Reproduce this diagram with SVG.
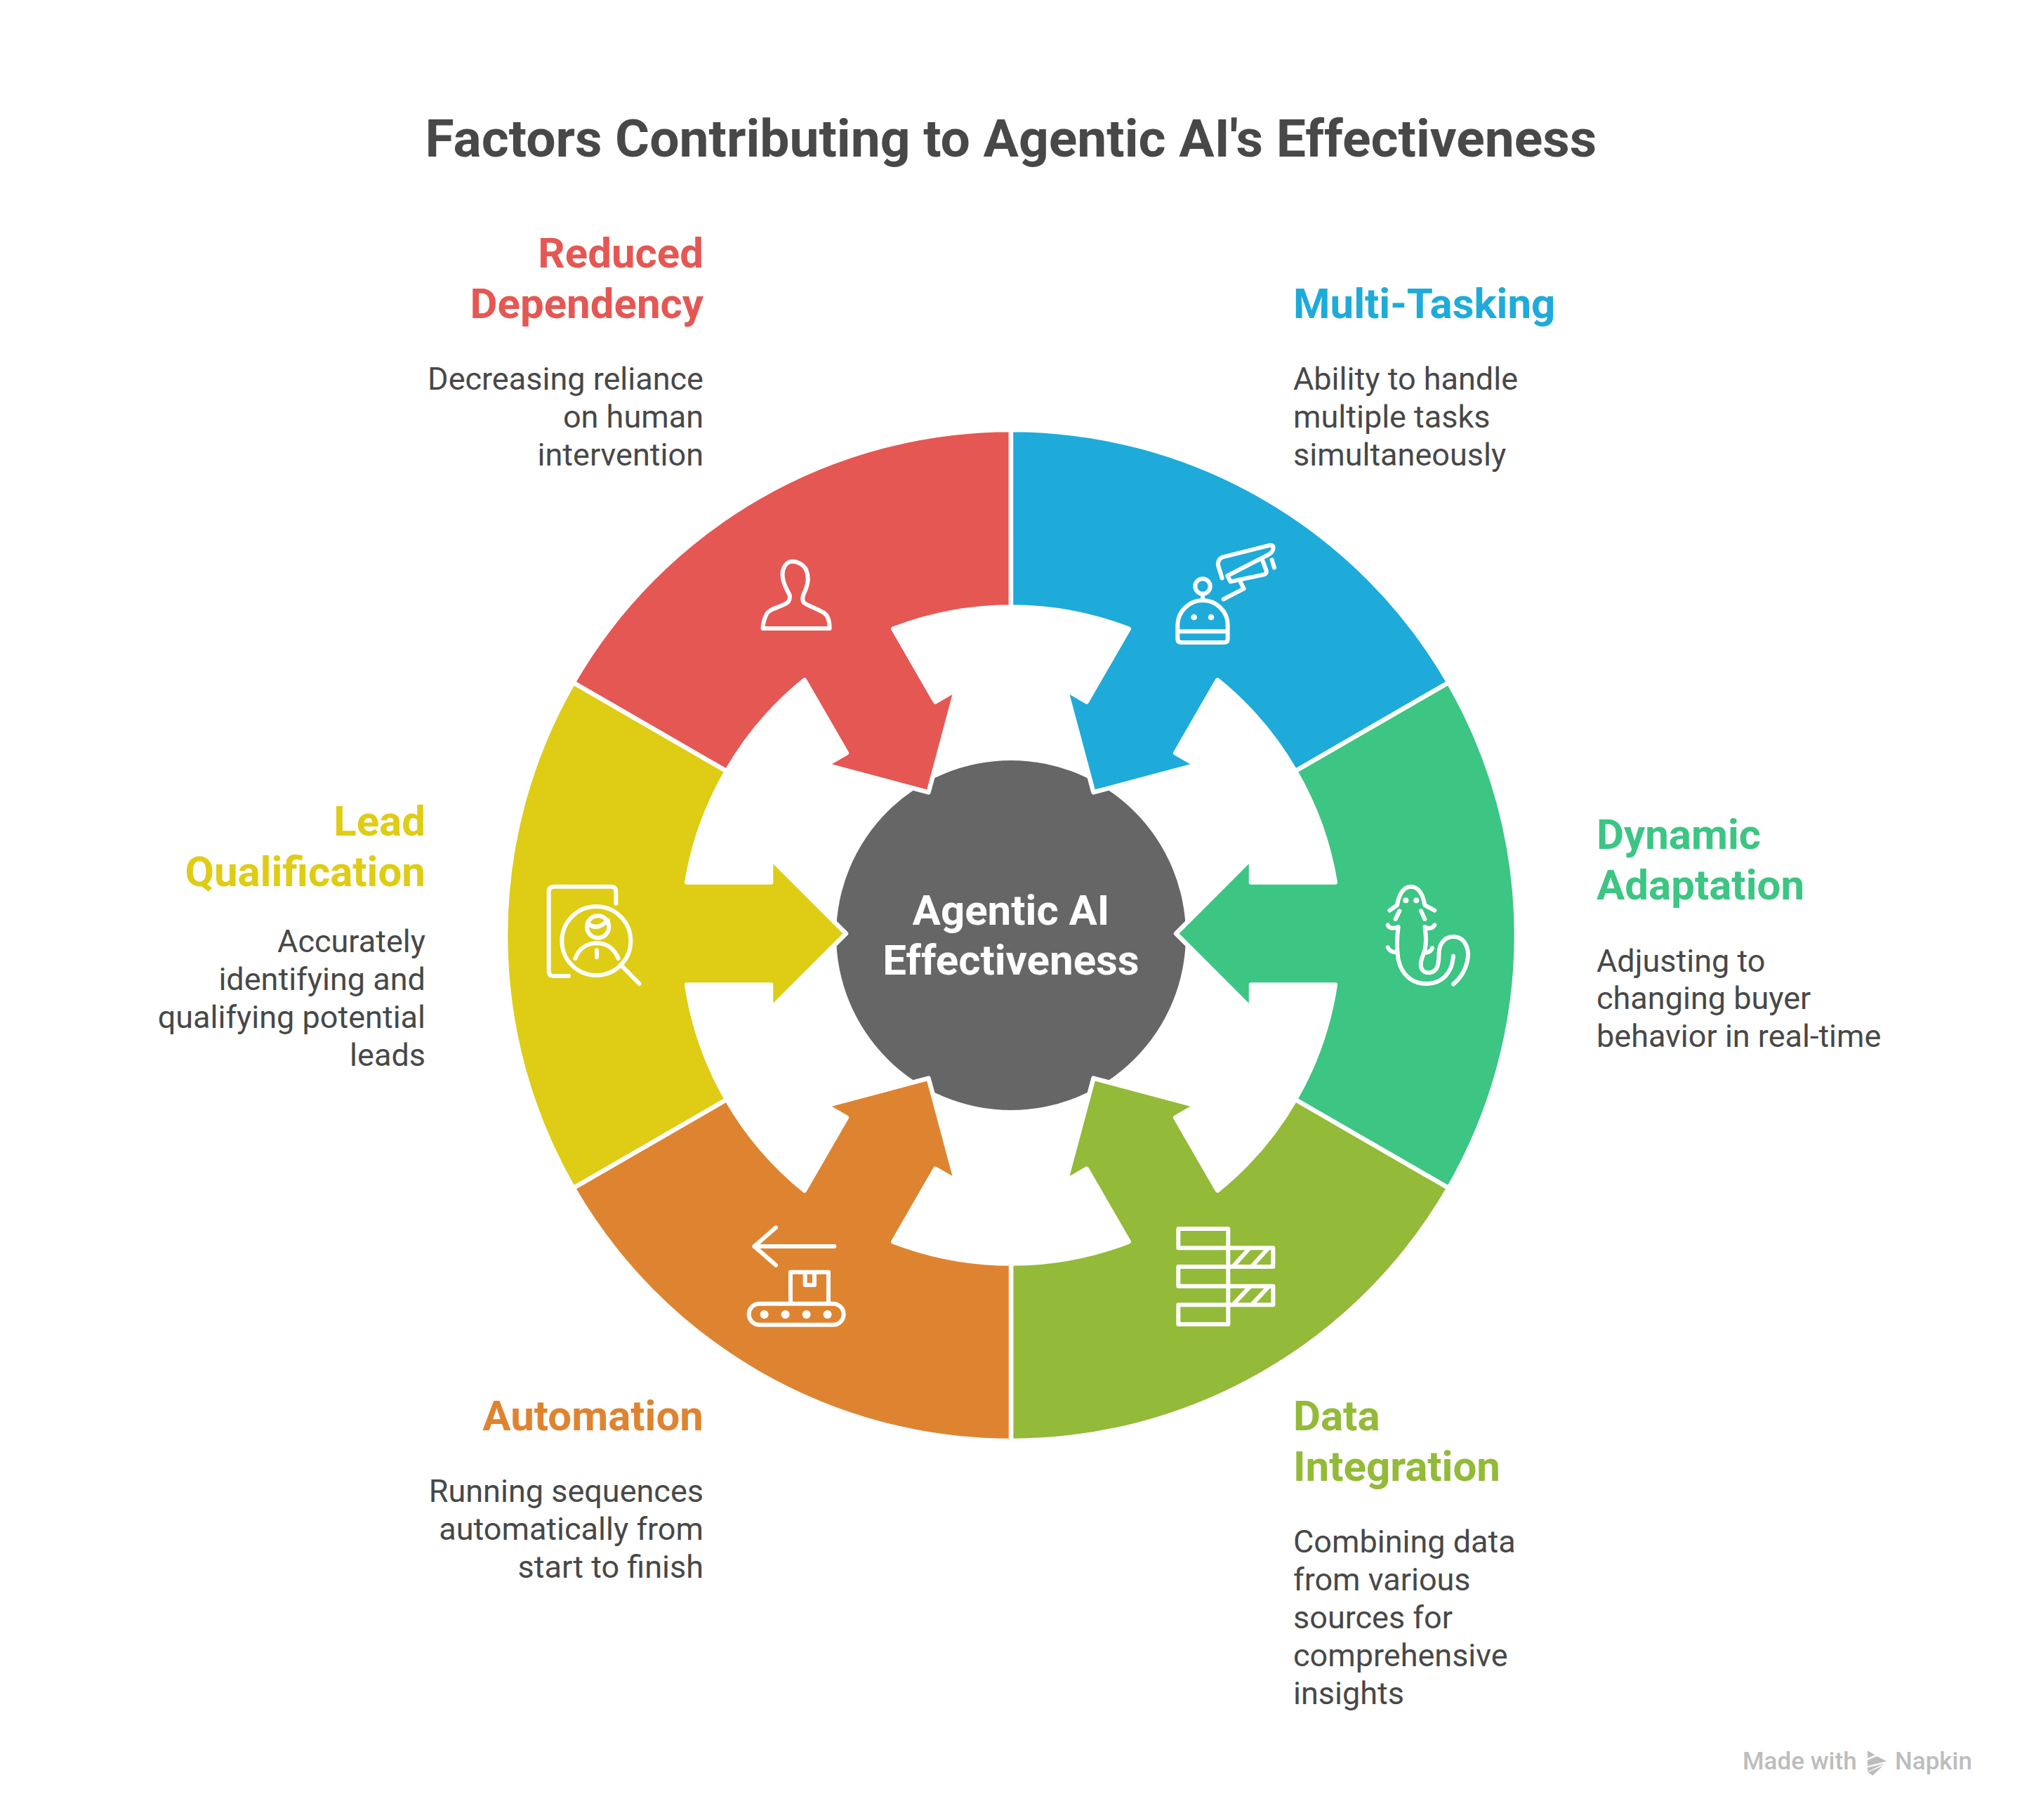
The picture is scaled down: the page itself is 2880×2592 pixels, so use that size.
<svg xmlns="http://www.w3.org/2000/svg" xmlns:xlink="http://www.w3.org/1999/xlink" width="2880" height="2592" viewBox="0 0 2880 2592">
<style>
text{font-family:Roboto,"Liberation Sans",sans-serif}
.title{font-size:75px;font-weight:700;fill:#484848;text-anchor:middle}
.h{font-size:60px;font-weight:700}
.d{font-size:45px;font-weight:400;fill:#484848}
.r{text-anchor:end}
.c{font-size:60px;font-weight:700;fill:#fff;text-anchor:middle}
.seg{stroke:#fff;stroke-width:6.5;stroke-linejoin:round}
.ic{fill:none;stroke:#fff;stroke-width:18;stroke-linecap:round;stroke-linejoin:round}
.dot{fill:#fff;stroke:none}
.ft{font-size:35px;font-weight:500;fill:#bdbdbd}
</style>
<defs>
<path id="sector" d="M235 0L342 -107L342 -73L461.8 -73A467.5 467.5 0 0 0 404.9 -233.8L623.5 -360A720 720 0 0 1 623.5 360L404.9 233.8A467.5 467.5 0 0 0 461.8 73L342 73L342 107Z"/>
</defs>
<rect width="2880" height="2592" fill="#fff"/>
<text class="title" x="1440" y="223">Factors Contributing to Agentic AI's Effectiveness</text>
<g id="center"><circle cx="1440" cy="1332" r="249" fill="#666"/></g>
<g id="node-data-integration"><use xlink:href="#sector" href="#sector" class="seg" fill="#93BA38" transform="translate(1440 1332) rotate(60)"/></g>
<g id="node-automation"><use xlink:href="#sector" href="#sector" class="seg" fill="#DE8431" transform="translate(1440 1332) rotate(120)"/></g>
<g id="node-lead-qualification"><path class="seg" fill="#DFCC14" transform="translate(1440 1332) rotate(180)" d="M235 2.5L342 -104.5L342 -70.5L461.8 -70.5A467.5 467.5 0 0 0 404.9 -233.8L623.5 -360A720 720 0 0 1 623.5 360L404.9 233.8A467.5 467.5 0 0 0 461.8 75.5L342 75.5L342 109.5Z"/></g>
<g id="node-reduced-dependency"><use xlink:href="#sector" href="#sector" class="seg" fill="#E55753" transform="translate(1440 1332) rotate(240)"/></g>
<g id="node-multi-tasking"><use xlink:href="#sector" href="#sector" class="seg" fill="#1EABDA" transform="translate(1440 1332) rotate(300)"/></g>
<g id="node-dynamic-adaptation"><path class="seg" fill="#3CC583" transform="translate(1440 1332)" d="M235 -2.5L342 -109.5L342 -75.5L461.8 -75.5A467.5 467.5 0 0 0 404.9 -233.8L623.5 -360A720 720 0 0 1 623.5 360L404.9 233.8A467.5 467.5 0 0 0 461.8 70.5L342 70.5L342 104.5Z"/></g>
<g id="center-label"><text class="c" x="1440" y="1317">Agentic AI</text><text class="c" x="1440" y="1388">Effectiveness</text></g>

<g id="icon-robot" class="ic" transform="translate(1620 740) scale(.3333)">
<path d="M172 478V450C172 390 225 345 279 345C335 345 386 390 386 450V510Q386 525 370 525H188Q172 525 172 510V478H386"/>
<circle cx="279" cy="285" r="32"/><path d="M279 317V345"/>
<circle class="dot" cx="242" cy="417" r="13"/><circle class="dot" cx="315" cy="417" r="13"/>
<path d="M362 250L345 195Q342 170 365 160L565 110Q585 108 580 125Q578 140 560 150L385 240L398 265L540 235Q555 232 550 215L535 175"/>
<path d="M440 265L455 295L368 340"/><path d="M575 172L585 205"/>
</g>

<g id="icon-lizard" class="ic" transform="translate(1940 1240) scale(.3333)">
<path d="M118 170L150 147C158 100 175 70 208 68C240 68 260 100 268 147L310 170"/>
<circle class="dot" cx="187" cy="127" r="12"/><circle class="dot" cx="232" cy="127" r="12"/>
<path d="M160 172L143 207M252 172L268 207"/>
<path d="M110 232C115 245 130 250 155 240C148 290 148 340 155 380C170 450 220 485 280 483C340 480 385 440 390 365"/>
<path d="M110 328C118 345 135 350 152 348"/>
<path d="M310 232C300 248 285 250 268 240C275 280 275 310 268 340C255 375 245 400 255 420C270 445 310 440 322 410C335 370 320 340 340 310C365 270 420 275 440 310C465 350 455 430 390 485"/>
<path d="M300 330C295 345 285 350 268 350"/>
</g>

<g id="icon-data" class="ic" transform="translate(1650 1720) scale(.3333)">
<rect x="85" y="90" width="213" height="82"/><rect x="85" y="252" width="213" height="83"/><rect x="85" y="415" width="213" height="83"/>
<rect x="298" y="172" width="192" height="80"/><rect x="298" y="335" width="192" height="80"/>
<path d="M320 250L390 172M400 250L470 172M320 413L390 338M400 413L470 338"/>
</g>

<g id="icon-conveyor" class="ic" transform="translate(1040 1720) scale(.3333)">
<path d="M195 85L103 165L195 245M103 165H445"/>
<path d="M258 405V275H420V405M320 280V330H360V280"/>
<rect x="80" y="410" width="405" height="90" rx="45"/>
<circle class="dot" cx="146" cy="456" r="18"/><circle class="dot" cx="236" cy="456" r="18"/><circle class="dot" cx="326" cy="456" r="18"/><circle class="dot" cx="416" cy="456" r="18"/>
</g>

<g id="icon-search" class="ic" transform="translate(760 1240) scale(.3333)">
<path d="M352 140V90Q352 68 330 68H88Q65 68 65 90V430Q65 450 85 450H150"/>
<circle cx="268" cy="300" r="147"/><circle cx="275" cy="240" r="47"/>
<path d="M232 225Q270 260 318 212"/>
<path d="M178 375C195 330 230 310 270 310C315 310 345 335 362 375"/>
<path d="M270 340V370M380 410L452 483"/>
</g>

<g id="icon-person" class="ic" transform="translate(1060 780) scale(.3333)">
<path d="M80 345H365C365 320 360 290 340 278C310 260 270 248 255 235C245 220 250 205 262 180C275 150 275 120 265 95C250 65 215 55 195 60C170 70 160 100 165 130C170 165 190 190 195 205C195 225 190 235 170 243C130 260 105 265 95 285C85 305 80 325 80 345Z"/>
</g>

<g id="label-reduced"><text class="h r" fill="#E55753" x="1002" y="381">Reduced</text><text class="h r" fill="#E55753" x="1002" y="453">Dependency</text>
<text class="d r" x="1002" y="555">Decreasing reliance</text><text class="d r" x="1002" y="609">on human</text><text class="d r" x="1002" y="663">intervention</text></g>
<g id="label-multi"><text class="h" fill="#1EABDA" x="1842" y="453">Multi-Tasking</text>
<text class="d" x="1842" y="555">Ability to handle</text><text class="d" x="1842" y="609">multiple tasks</text><text class="d" x="1842" y="663">simultaneously</text></g>
<g id="label-dynamic"><text class="h" fill="#3CC583" x="2274" y="1209">Dynamic</text><text class="h" fill="#3CC583" x="2274" y="1281">Adaptation</text>
<text class="d" x="2274" y="1384">Adjusting to</text><text class="d" x="2274" y="1437">changing buyer</text><text class="d" x="2274" y="1491">behavior in real-time</text></g>
<g id="label-lead"><text class="h r" fill="#DFCC14" x="606" y="1190">Lead</text><text class="h r" fill="#DFCC14" x="606" y="1262">Qualification</text>
<text class="d r" x="606" y="1356">Accurately</text><text class="d r" x="606" y="1410">identifying and</text><text class="d r" x="606" y="1464">qualifying potential</text><text class="d r" x="606" y="1518">leads</text></g>
<g id="label-automation"><text class="h r" fill="#DE8431" x="1002" y="2037">Automation</text>
<text class="d r" x="1002" y="2139">Running sequences</text><text class="d r" x="1002" y="2193">automatically from</text><text class="d r" x="1002" y="2247">start to finish</text></g>
<g id="label-data"><text class="h" fill="#93BA38" x="1842" y="2037">Data</text><text class="h" fill="#93BA38" x="1842" y="2109">Integration</text>
<text class="d" x="1842" y="2211">Combining data</text><text class="d" x="1842" y="2265">from various</text><text class="d" x="1842" y="2319">sources for</text><text class="d" x="1842" y="2373">comprehensive</text><text class="d" x="1842" y="2427">insights</text></g>

<g id="footer"><text class="ft" x="2482" y="2520">Made with</text><text class="ft" x="2699" y="2520">Napkin</text>
<g transform="translate(2460 2480) scale(.3333)" fill="#bdbdbd"><path d="M600 40L632 58L600 72Z"/><path d="M600 80L640 64L682 85L600 106Z"/><path d="M600 112L672 95L600 130Z"/><path d="M622 146L602 132L665 105Z"/></g></g>
</svg>
